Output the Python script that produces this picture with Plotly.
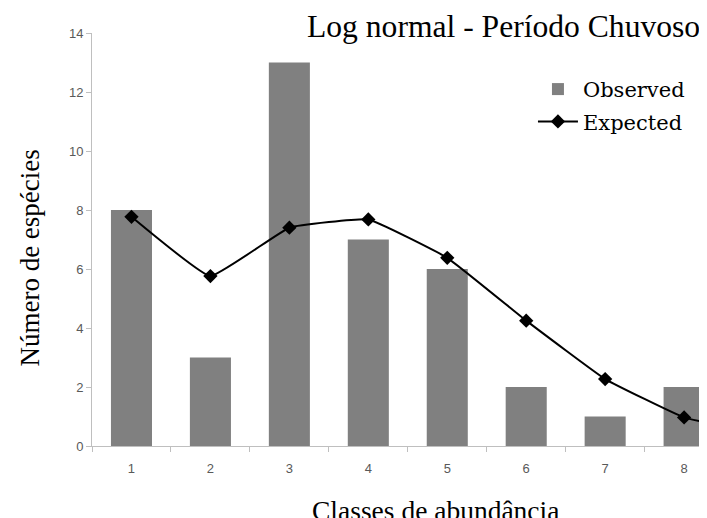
import plotly.graph_objects as go

categories = ["1", "2", "3", "4", "5", "6", "7", "8"]
observed = [8, 3, 13, 7, 6, 2, 1, 2]
expected_categories = ["1", "2", "3", "4", "5", "6", "7", "8", "9"]
expected = [7.77, 5.76, 7.40, 7.68, 6.38, 4.25, 2.27, 0.97, 0.40]
y_ticks = [0, 2, 4, 6, 8, 10, 12, 14]

title_text = "Log normal - Período Chuvoso"
x_title = "Classes de abundância"
y_title = "Número de espécies"

serif = "Liberation Serif, Times New Roman, serif"
sans = "Liberation Sans, Arial, sans-serif"
axis_gray = "#bfbfbf"

fig = go.Figure()
fig.add_trace(go.Bar(
    x=categories, y=observed, name="Observed",
    marker=dict(color="#808080", line=dict(width=0)),
    legendgroup="a",
))
fig.add_trace(go.Scatter(
    x=expected_categories, y=expected, name="Expected",
    mode="lines+markers",
    line=dict(color="black", width=2, shape="spline", smoothing=0.3),
    marker=dict(symbol="diamond", size=11, color="black"),
    legendgroup="b",
))

# page body adds an 8px offset; figure sized so it ends at the window edge
fig.update_layout(
    width=699, height=510,
    margin=dict(l=84, r=0, t=25, b=72),
    paper_bgcolor="white", plot_bgcolor="white",
    bargap=0.48,
    showlegend=True,
    legend=dict(
        x=0.717, y=0.913, xanchor="left", yanchor="top",
        font=dict(family="DejaVu Serif, serif", size=21, color="black"),
        bgcolor="rgba(0,0,0,0)", itemwidth=40, tracegroupgap=2,
    ),
    xaxis=dict(
        type="category", categoryorder="array", categoryarray=expected_categories,
        range=[-0.5, 7.29], automargin=False,
        showline=True, linecolor=axis_gray, linewidth=1,
        ticks="outside", tickson="boundaries", ticklen=5, tickcolor=axis_gray,
        ticklabelstandoff=10,
        tickfont=dict(family=sans, size=13, color="#595959"),
        showgrid=False, zeroline=False,
    ),
    yaxis=dict(
        range=[0, 14], tickvals=y_ticks, automargin=False,
        showline=True, linecolor=axis_gray, linewidth=1,
        ticks="outside", ticklen=5, tickcolor=axis_gray,
        tickfont=dict(family=sans, size=13, color="#595959"),
        showgrid=False, zeroline=False,
    ),
    annotations=[
        dict(text=title_text, xref="paper", yref="paper", x=0.992, y=1.015,
             xanchor="right", yanchor="middle", showarrow=False,
             font=dict(family=serif, size=31.6, color="black")),
        dict(text=y_title, xref="paper", yref="paper", x=-0.1, y=0.455,
             xanchor="center", yanchor="middle", textangle=-90, showarrow=False,
             font=dict(family=serif, size=27, color="black")),
        dict(text=x_title, xref="paper", yref="paper", x=0.559, y=-0.155,
             xanchor="center", yanchor="middle", showarrow=False,
             font=dict(family=serif, size=27.5, color="black")),
    ],
)

fig.write_html("out.html")
